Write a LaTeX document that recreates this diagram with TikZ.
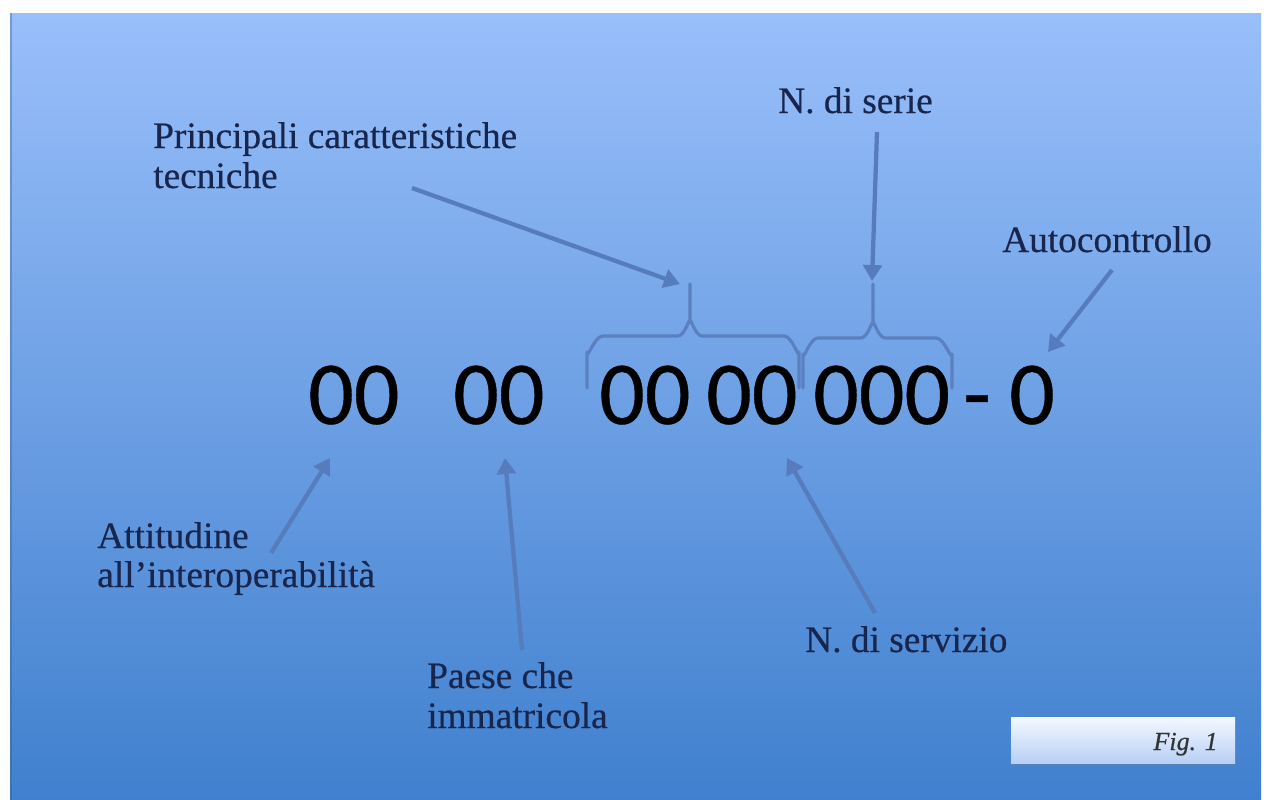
\documentclass[tikz,border=0pt]{standalone}
\usepackage{fontspec}
\setmainfont{Liberation Serif}[FakeBold=0.5]
\newfontfamily\digitfont{Carlito}[FakeBold=0.4]
\usetikzlibrary{arrows.meta,shadows}
\definecolor{bgtop}{RGB}{153,191,250}
\definecolor{bgbot}{RGB}{64,128,206}
\definecolor{arrowc}{RGB}{86,124,190}
\definecolor{bracec}{RGB}{90,128,192}
\definecolor{labc}{RGB}{24,38,78}
\definecolor{figtop}{RGB}{244,248,255}
\definecolor{figbot}{RGB}{184,208,246}
\tikzset{
  lab/.style={anchor=base west, inner sep=0pt, text=labc, font=\fontsize{28}{30}\selectfont},
  digits/.style={anchor=base west, inner sep=0pt, text=black, font=\digitfont\fontsize{67.5}{70}\selectfont},
  pointer/.style={draw=arrowc, line width=3.2pt, -{Triangle[length=12pt,width=14pt]}},
  bracket/.style={draw=bracec, line width=2.4pt, line cap=round, line join=round},
}
\begin{document}
\begin{tikzpicture}[x=0.75pt,y=-0.75pt]
\useasboundingbox (0,0) rectangle (1268,800);
\fill[white] (0,0) rectangle (1268,800);
\shade[top color=bgtop, bottom color=bgbot] (10,13) rectangle (1261,800);
\draw[color=bgbot!70!black, opacity=0.35, line width=1.5pt] (10.5,13) -- (10.5,800);

% digits
\node[digits] (d1) at (308,424) {00};
\node[digits] (d2) at (453,424) {00};
\node[digits] (d3) at (599,424) {00};
\node[digits] (d4) at (706,424) {00};
\node[digits] (d5) at (813,424) {000};
\node[digits] (dh) at (963,424) {-};
\node[digits] (d6) at (1009,424) {0};

% braces
\draw[bracket] (587,388) -- (587,352) to[out=-90,in=180] (603,336) -- (678,336)
   to[out=0,in=90] (690,322) -- (690,284);
\draw[bracket] (690,322) to[out=90,in=180] (702,336) -- (784,336)
   to[out=0,in=-90] (799,352) -- (799,388);
\draw[bracket] (803,388) -- (803,354) to[out=-90,in=180] (818,338) -- (861,338)
   to[out=0,in=90] (873,324) -- (873,284);
\draw[bracket] (873,324) to[out=90,in=180] (885,338) -- (936,338)
   to[out=0,in=-90] (952,354) -- (952,388);

% labels
\node[lab] (pc1) at (153,148) {Principali caratteristiche};
\node[lab] (pc2) at (153,188) {tecniche};
\node[lab] (ns) at (778,113) {N. di serie};
\node[lab] (ac) at (1002,252) {Autocontrollo};
\node[lab] (at1) at (97,548) {Attitudine};
\node[lab] (at2) at (97,587) {all’interoperabilità};
\node[lab] (pa1) at (427,688) {Paese che};
\node[lab] (pa2) at (427,728) {immatricola};
\node[lab] (sv) at (805,652) {N. di servizio};

% arrow ends
\coordinate (a1s) at (412,188); \coordinate (a1e) at (680,284);
\coordinate (a2s) at (877,132); \coordinate (a2e) at (872,281);
\coordinate (a3s) at (1112,270); \coordinate (a3e) at (1048,352);
\coordinate (a4s) at (271,553); \coordinate (a4e) at (330,458);
\coordinate (a5s) at (522,650); \coordinate (a5e) at (505,458);
\coordinate (a6s) at (875,613); \coordinate (a6e) at (787,458);
\draw[pointer] (a1s) -- (a1e);
\draw[pointer] (a2s) -- (a2e);
\draw[pointer] (a3s) -- (a3e);
\draw[pointer] (a4s) -- (a4e);
\draw[pointer] (a5s) -- (a5e);
\draw[pointer] (a6s) -- (a6e);

% fig box
\shade[top color=figtop, bottom color=figbot, drop shadow={opacity=0.35, shadow xshift=1pt, shadow yshift=-2pt}]
  (1011,717) rectangle (1235,763);
\node[anchor=base east, inner sep=0pt, text=black!80, font=\itshape\fontsize{19.5}{22}\selectfont] (fig) at (1218,750) {Fig. 1};
\end{tikzpicture}
\end{document}
